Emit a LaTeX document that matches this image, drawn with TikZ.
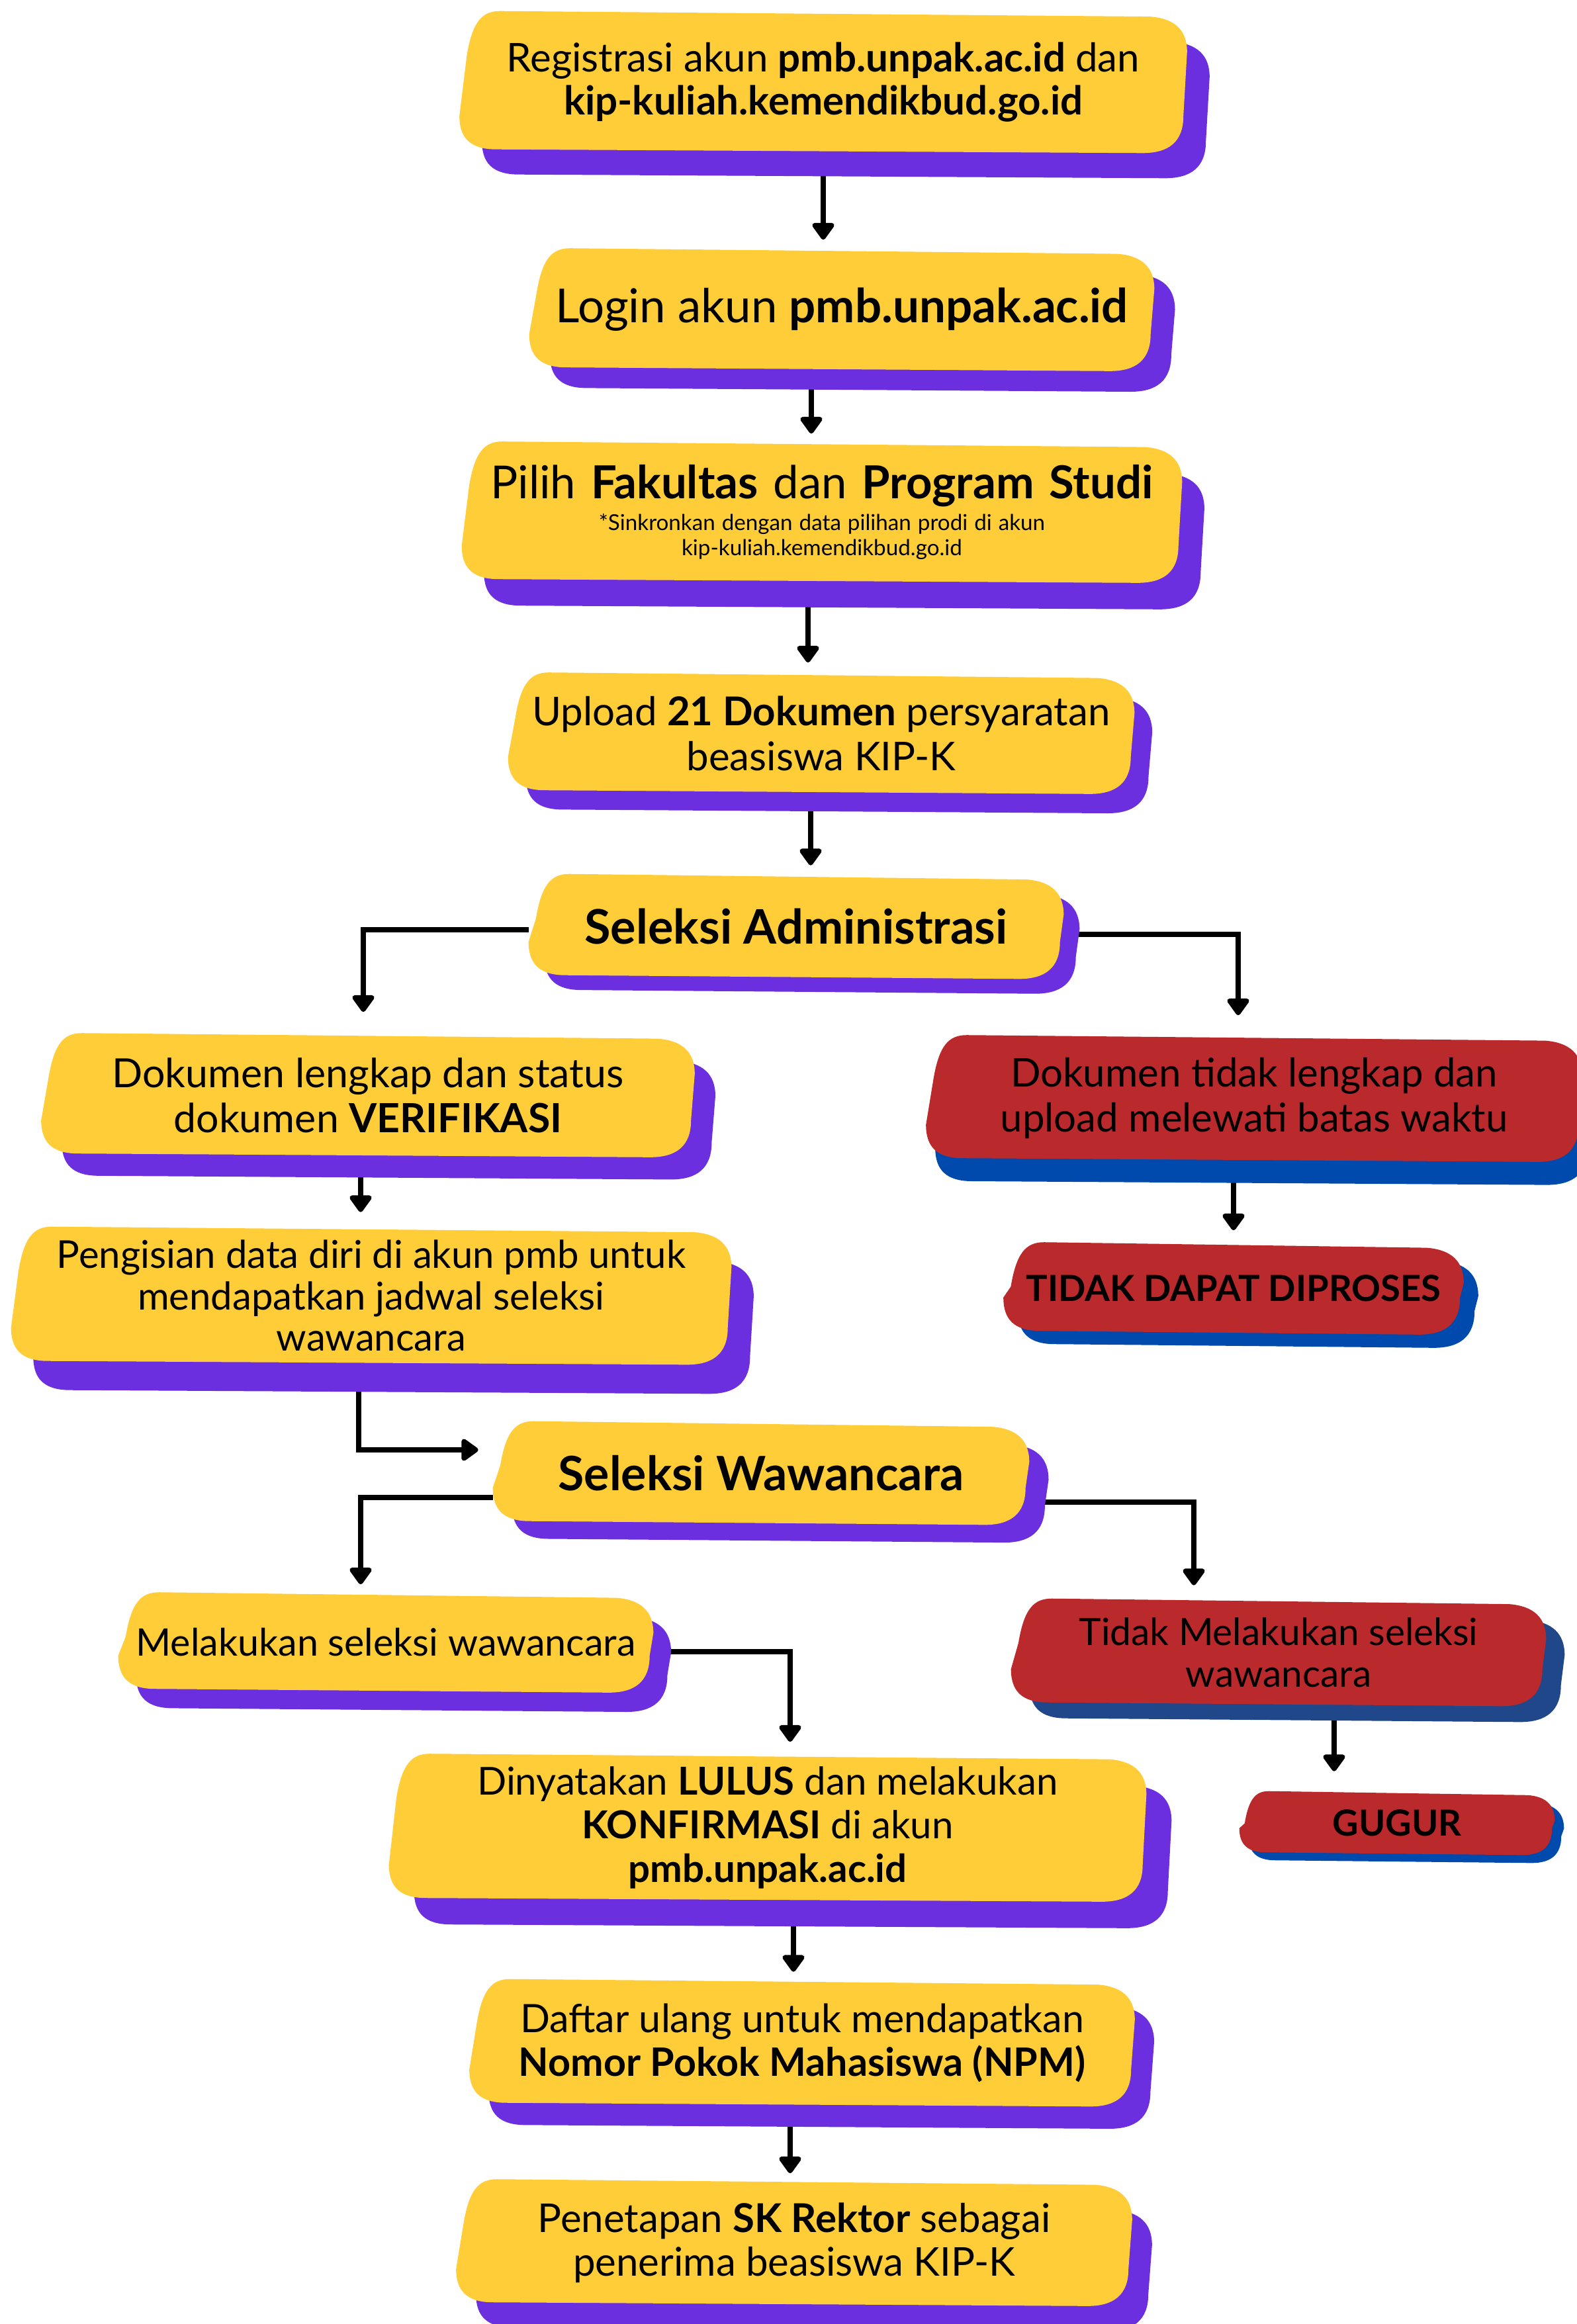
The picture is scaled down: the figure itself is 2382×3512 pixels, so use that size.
\documentclass[tikz,border=0pt]{standalone}
\usepackage{fontspec}
\setmainfont{Lato}
\usetikzlibrary{arrows.meta,calc}
\pgfdeclarelayer{lines}
\pgfdeclarelayer{bg}
\pgfsetlayers{lines,bg,main}

\definecolor{kuning}{RGB}{254,205,55}
\definecolor{ungu}{RGB}{108,47,224}
\definecolor{merah}{RGB}{186,41,43}
\definecolor{biru}{RGB}{0,74,173}
\definecolor{navy}{RGB}{31,71,138}

\tikzset{every picture/.style={line width=0.75pt}}
\tikzset{
  box/.style={align=center, inner sep=0pt, font=\fontsize{14.5}{16.5}\selectfont},
  arr/.style={line width=2pt, -{Triangle[width=9.5pt,length=7pt,round]}},
}

% hand-drawn box: \p1 top left, \p2 bottom right, \x3 corner size
\newcommand\blobpath{(\x1+1.1*\x3,\y1) -- (\x2-\x3,\y1-0.15*\x3) .. controls (\x2-0.35*\x3,\y1-0.2*\x3) and (\x2,\y1-0.5*\x3) .. (\x2,\y1-1.1*\x3) -- (\x2-0.1*\x3,\y2+\x3) .. controls (\x2-0.1*\x3,\y2+0.3*\x3) and (\x2-0.5*\x3,\y2) .. (\x2-1.2*\x3,\y2) -- (\x1+\x3,\y2+0.1*\x3) .. controls (\x1+0.3*\x3,\y2+0.1*\x3) and (\x1,\y2+0.4*\x3) .. (\x1,\y2+\x3) -- (\x1+0.2*\x3,\y1-1.2*\x3) .. controls (\x1+0.35*\x3,\y1-0.3*\x3) and (\x1+0.6*\x3,\y1) .. (\x1+1.1*\x3,\y1) -- cycle}

% node, fill, shadow, shadow dx, shadow dy
\newcommand\blob[5]{%
  \begin{pgfonlayer}{bg}
    \fill[#3] let \p1=($(#1.north west)+(#4,-#5)$), \p2=($(#1.south east)+(#4,-#5)$),
      \p3=({min(14pt,0.42*(\y1-\y2))},0pt) in \blobpath;
    \fill[#2] let \p1=(#1.north west), \p2=(#1.south east),
      \p3=({min(14pt,0.42*(\y1-\y2))},0pt) in \blobpath;
  \end{pgfonlayer}}

\begin{document}
\begin{tikzpicture}[x=0.25pt,y=-0.25pt]
\useasboundingbox (0,0) rectangle (2382,3512);
\begin{pgfonlayer}{lines}
\fill[white] (0,0) rectangle (2382,3512);
\end{pgfonlayer}

% Text Node
\node[box, font=\fontsize{15}{16.3}\selectfont, minimum width=274.5pt, minimum height=53.25pt] (reg) at (1244,124)
  {Registrasi akun \textbf{pmb.unpak.ac.id} dan\\ \textbf{kip-kuliah.kemendikbud.go.id}};
\node[box, font=\fontsize{17.7}{20}\selectfont, minimum width=235.75pt, minimum height=46pt] (login) at (1272,468)
  {Login akun \textbf{pmb.unpak.ac.id}};
\node[box, text width=271.75pt, minimum height=53pt, font=\fontsize{17.2}{19}\selectfont] (prodi) at (1242,774)
  {\centering Pilih \textbf{Fakultas} dan \textbf{Program Studi}\par\vspace{2.5pt}
   {\centering\fontsize{8.3}{9.5}\selectfont\spaceskip=.3em\xspaceskip=.3em
    *Sinkronkan dengan data pilihan prodi di akun\par kip-kuliah.kemendikbud.go.id\par}};
\node[box, font=\fontsize{15}{17}\selectfont, minimum width=236.25pt, minimum height=45.5pt] (upload) at (1241,1108)
  {Upload \textbf{21 Dokumen} persyaratan\\ beasiswa KIP-K};
\node[box, font=\fontsize{18}{20}\selectfont, minimum width=201.75pt, minimum height=39.25pt] (admin) at (1203,1400)
  {\textbf{Seleksi Administrasi}};
\node[box, font=\fontsize{15.2}{17}\selectfont, minimum width=246.5pt, minimum height=46.5pt] (lengkap) at (556,1655)
  {Dokumen lengkap dan status\\ dokumen \textbf{VERIFIKASI}};
\node[box, font=\fontsize{15}{17}\selectfont, minimum width=247.5pt, minimum height=47.5pt] (tolak) at (1895,1660)
  {Dokumen tidak lengkap dan\\ upload melewati batas waktu};
\node[box, font=\fontsize{13.6}{16}\selectfont, minimum width=173.5pt, minimum height=34.5pt] (gagal) at (1864,1947)
  {\textbf{TIDAK DAPAT DIPROSES}};
\node[box, font=\fontsize{14.5}{15.7}\selectfont, minimum width=271.75pt, minimum height=51.75pt] (isi) at (561,1958)
  {Pengisian data diri di akun pmb untuk\\ mendapatkan jadwal seleksi\\ wawancara};
\node[box, font=\fontsize{17.9}{20}\selectfont, minimum width=202.25pt, minimum height=38.75pt] (ww) at (1150,2226)
  {\textbf{Seleksi Wawancara}};
\node[box, font=\fontsize{14.35}{16.5}\selectfont, minimum width=201.75pt, minimum height=37.5pt] (ikut) at (583,2482)
  {Melakukan seleksi wawancara};
\node[box, font=\fontsize{14.2}{15.7}\selectfont, minimum width=201.75pt, minimum height=40.25pt] (absen) at (1932,2497)
  {Tidak Melakukan seleksi\\ wawancara};
\node[box, font=\fontsize{13.6}{16}\selectfont, minimum width=118.75pt, minimum height=23.75pt] (gugur) at (2111,2755)
  {\textbf{GUGUR}};
\node[box, font=\fontsize{14.55}{16.5}\selectfont, minimum width=285.75pt, minimum height=55.5pt] (lulus) at (1160,2762)
  {Dinyatakan \textbf{LULUS} dan melakukan\\ \textbf{KONFIRMASI} di akun\\ \textbf{pmb.unpak.ac.id}};
\node[box, font=\fontsize{14.8}{16.5}\selectfont, minimum width=251pt, minimum height=47.75pt] (daftar) at (1212,3087)
  {Daftar ulang untuk mendapatkan\\ \textbf{Nomor Pokok Mahasiswa (NPM)}};
\node[box, font=\fontsize{15}{16.5}\selectfont, minimum width=255pt, minimum height=47.5pt] (sk) at (1200,3389)
  {Penetapan \textbf{SK Rektor} sebagai\\ penerima beasiswa KIP-K};

%Shape: boxes
\blob{reg}{kuning}{ungu}{8.5pt}{9.5pt}
\blob{login}{kuning}{ungu}{7.8pt}{7.8pt}
\blob{prodi}{kuning}{ungu}{8.4pt}{10pt}
\blob{upload}{kuning}{ungu}{6.7pt}{7.3pt}
\blob{admin}{kuning}{ungu}{6pt}{5.6pt}
\blob{lengkap}{kuning}{ungu}{7.8pt}{8.4pt}
\blob{tolak}{merah}{biru}{3.5pt}{8.7pt}
\blob{gagal}{merah}{biru}{5.5pt}{5pt}
\blob{isi}{kuning}{ungu}{8.4pt}{11pt}
\blob{ww}{kuning}{ungu}{7.3pt}{6.7pt}
\blob{ikut}{kuning}{ungu}{6.7pt}{7.3pt}
\blob{absen}{merah}{navy}{7pt}{6pt}
\blob{gugur}{merah}{biru}{3.5pt}{3pt}
\blob{lulus}{kuning}{ungu}{9.5pt}{10pt}
\blob{daftar}{kuning}{ungu}{7.3pt}{8.4pt}
\blob{sk}{kuning}{ungu}{7.5pt}{9.5pt}

%Arrows
\begin{pgfonlayer}{lines}
\draw[arr, shorten >=3.25pt] (reg) -- (reg |- login.north);
\draw[arr, shorten >=3pt] ([xshift=-4pt]prodi.north |- login.south) -- ([xshift=-4pt]prodi.north);
\draw[arr, shorten >=3.75pt] ([xshift=-5pt]upload.north |- prodi.south) -- ([xshift=-5pt]upload.north);
\draw[arr, shorten >=3.25pt] ([xshift=-4pt]upload.south) -- ([xshift=-4pt]upload.south |- admin.north);
\draw[arr, shorten >=8pt] ([yshift=-1.25pt]admin.west) -| ([xshift=-1.75pt]lengkap.north);
\draw[arr, shorten >=7.5pt] ([yshift=-3pt]admin.east) -| ([xshift=-6pt]tolak.north);
\draw[arr, shorten >=5.5pt] ([xshift=-2.75pt]lengkap.south) -- ([xshift=-2.75pt]lengkap.south |- isi.north);
\draw[arr, shorten >=4.5pt] (gagal.north |- tolak.south) -- (gagal.north);
\draw[arr, shorten >=5.5pt] ([xshift=-4.75pt]isi.south) |- ([yshift=8.75pt]ww.west);
\draw[arr, shorten >=3pt] ([yshift=-9.25pt]ww.west) -| ([xshift=-9.5pt]ikut.north);
\draw[arr, shorten >=5pt] ([yshift=-11pt]ww.east) -| ([xshift=-32pt]absen.north);
\draw[arr, shorten >=4.5pt] ([yshift=-3.5pt]ikut.east) -| ([xshift=8.5pt]lulus.north);
\draw[arr, shorten >=7.5pt] ([xshift=-23.75pt]gugur.north |- absen.south) -- ([xshift=-23.75pt]gugur.north);
\draw[arr, shorten >=2.75pt] ([xshift=-3.25pt]daftar.north |- lulus.south) -- ([xshift=-3.25pt]daftar.north);
\draw[arr, shorten >=2.25pt] ([xshift=-1.5pt]sk.north |- daftar.south) -- ([xshift=-1.5pt]sk.north);
\end{pgfonlayer}
\end{tikzpicture}
\end{document}
